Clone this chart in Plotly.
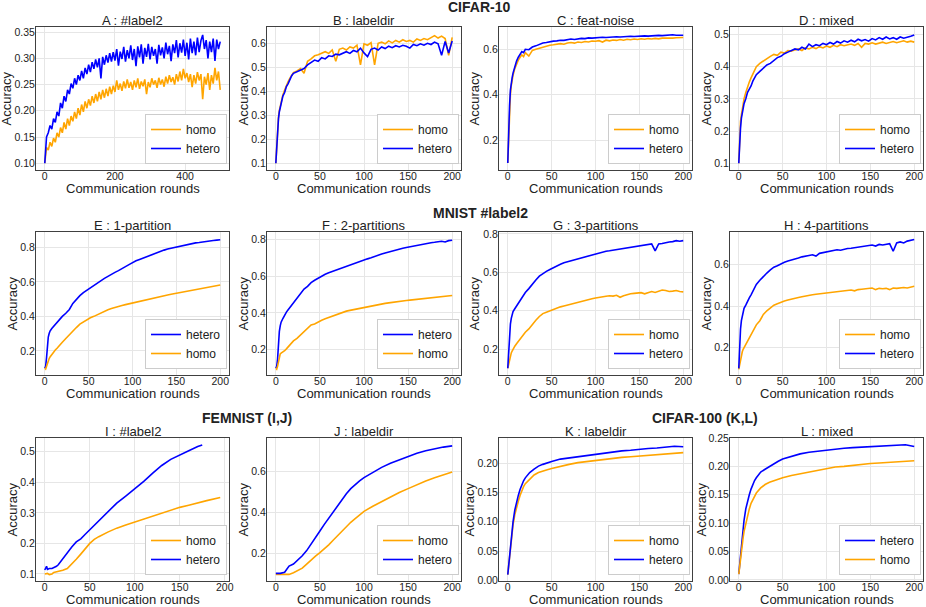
import plotly.graph_objects as go

W, H = 926, 607
ORANGE = "#FFA500"
BLUE = "#0000FF"
FONT = "Liberation Sans, Arial, sans-serif"

# ---------------- data ----------------
X500 = [0, 5, 10, 15, 20, 25, 30, 35, 40, 45, 50, 55, 60, 65, 70, 75, 80, 85, 90, 95,
        100, 105, 110, 115, 120, 125, 130, 135, 140, 145, 150, 155, 160, 165, 170, 175, 180, 185, 190, 195,
        200, 205, 210, 215, 220, 225, 230, 235, 240, 245, 250, 255, 260, 265, 270, 275, 280, 285, 290, 295,
        300, 305, 310, 315, 320, 325, 330, 335, 340, 345, 350, 355, 360, 365, 370, 375, 380, 385, 390, 395,
        400, 405, 410, 415, 420, 425, 430, 435, 440, 445, 450, 455, 460, 465, 470, 475, 480, 485, 490, 495,
        500]

X200 = [0, 1, 2, 3, 4, 5, 6, 8, 10, 12, 14, 16, 18, 20,
        24, 28, 32, 36, 40, 44, 48, 52, 56, 60,
        64, 68, 72, 76, 80, 84, 88, 92, 96, 100,
        104, 108, 112, 116, 120, 124, 128, 132, 136, 140,
        144, 148, 152, 156, 160, 164, 168, 172, 176, 180,
        184, 188, 192, 196, 200]

A_HOMO = [0.100, 0.130, 0.125, 0.140, 0.132, 0.148, 0.140, 0.158, 0.150, 0.168,
          0.158, 0.178, 0.165, 0.185, 0.172, 0.190, 0.180, 0.198, 0.185, 0.205,
          0.192, 0.212, 0.198, 0.218, 0.205, 0.222, 0.210, 0.228, 0.215, 0.232,
          0.218, 0.236, 0.222, 0.240, 0.225, 0.242, 0.228, 0.246, 0.232, 0.248,
          0.236, 0.258, 0.240, 0.252, 0.238, 0.256, 0.243, 0.260, 0.244, 0.255,
          0.240, 0.258, 0.245, 0.262, 0.242, 0.256, 0.247, 0.260, 0.232, 0.255,
          0.245, 0.262, 0.250, 0.258, 0.244, 0.263, 0.250, 0.260, 0.246, 0.265,
          0.252, 0.268, 0.255, 0.264, 0.250, 0.270, 0.256, 0.275, 0.258, 0.280,
          0.262, 0.272, 0.255, 0.270, 0.245, 0.268, 0.252, 0.274, 0.258, 0.270,
          0.222, 0.265, 0.250, 0.272, 0.240, 0.268, 0.252, 0.282, 0.258, 0.275,
          0.240]
A_HETERO = [0.100, 0.150, 0.158, 0.172, 0.165, 0.185, 0.178, 0.198, 0.190, 0.215,
            0.205, 0.228, 0.218, 0.240, 0.232, 0.252, 0.243, 0.262, 0.250, 0.268,
            0.258, 0.276, 0.262, 0.282, 0.270, 0.288, 0.274, 0.293, 0.280, 0.298,
            0.283, 0.300, 0.262, 0.303, 0.288, 0.306, 0.292, 0.310, 0.294, 0.312,
            0.296, 0.318, 0.286, 0.313, 0.299, 0.322, 0.294, 0.316, 0.300, 0.325,
            0.297, 0.318, 0.285, 0.323, 0.302, 0.327, 0.290, 0.320, 0.303, 0.328,
            0.298, 0.322, 0.305, 0.318, 0.290, 0.326, 0.306, 0.321, 0.300, 0.330,
            0.308, 0.324, 0.295, 0.327, 0.310, 0.335, 0.302, 0.329, 0.311, 0.336,
            0.305, 0.330, 0.298, 0.338, 0.310, 0.332, 0.306, 0.340, 0.312, 0.334,
            0.345, 0.318, 0.335, 0.300, 0.332, 0.312, 0.338, 0.295, 0.336, 0.318,
            0.332]

B_HOMO = [0.100, 0.180, 0.250, 0.290, 0.320, 0.340, 0.360, 0.385, 0.405, 0.425, 0.440, 0.455, 0.470, 0.478,
          0.485, 0.495, 0.475, 0.525, 0.535, 0.548, 0.552, 0.560, 0.565, 0.558,
          0.572, 0.525, 0.575, 0.580, 0.572, 0.585, 0.580, 0.592, 0.510, 0.598,
          0.592, 0.603, 0.510, 0.600, 0.605, 0.598, 0.610, 0.602, 0.612, 0.605,
          0.615, 0.608, 0.612, 0.605, 0.618, 0.612, 0.620, 0.615, 0.625, 0.632,
          0.622, 0.630, 0.620, 0.550, 0.625]
B_HETERO = [0.100, 0.170, 0.240, 0.285, 0.315, 0.335, 0.355, 0.380, 0.395, 0.420, 0.432, 0.450, 0.465, 0.475,
            0.482, 0.490, 0.495, 0.510, 0.520, 0.530, 0.525, 0.540, 0.535, 0.548,
            0.545, 0.555, 0.552, 0.560, 0.565, 0.558, 0.570, 0.565, 0.580, 0.560,
            0.545, 0.575, 0.580, 0.572, 0.585, 0.578, 0.588, 0.582, 0.590, 0.585,
            0.592, 0.588, 0.580, 0.595, 0.590, 0.598, 0.592, 0.600, 0.595, 0.605,
            0.598, 0.550, 0.608, 0.560, 0.610]

C_HOMO = [0.100, 0.230, 0.330, 0.400, 0.440, 0.465, 0.485, 0.515, 0.535, 0.552, 0.565, 0.575, 0.568, 0.585,
          0.570, 0.595, 0.600, 0.605, 0.610, 0.612, 0.618, 0.620, 0.622, 0.625,
          0.622, 0.628, 0.630, 0.627, 0.632, 0.630, 0.634, 0.632, 0.636, 0.635,
          0.638, 0.632, 0.640, 0.637, 0.641, 0.639, 0.643, 0.640, 0.644, 0.642,
          0.645, 0.643, 0.646, 0.644, 0.647, 0.645, 0.648, 0.646, 0.649, 0.648,
          0.650, 0.649, 0.651, 0.650, 0.652]
C_HETERO = [0.100, 0.250, 0.350, 0.420, 0.455, 0.475, 0.495, 0.525, 0.548, 0.565, 0.575, 0.590, 0.585, 0.600,
            0.598, 0.610, 0.615, 0.622, 0.628, 0.630, 0.634, 0.636, 0.637, 0.640,
            0.639, 0.642, 0.645, 0.643, 0.646, 0.648, 0.647, 0.650, 0.649, 0.651,
            0.650, 0.653, 0.652, 0.654, 0.653, 0.655, 0.654, 0.656, 0.655, 0.657,
            0.656, 0.658, 0.657, 0.659, 0.658, 0.660, 0.659, 0.661, 0.660, 0.662,
            0.661, 0.664, 0.662, 0.663, 0.662]

D_HOMO = [0.100, 0.180, 0.230, 0.250, 0.270, 0.290, 0.300, 0.320, 0.340, 0.352, 0.365, 0.378, 0.390, 0.400,
          0.410, 0.418, 0.425, 0.432, 0.438, 0.435, 0.445, 0.442, 0.450, 0.448,
          0.452, 0.455, 0.450, 0.458, 0.455, 0.460, 0.456, 0.462, 0.458, 0.464,
          0.460, 0.466, 0.462, 0.468, 0.465, 0.468, 0.470, 0.466, 0.472, 0.460,
          0.472, 0.470, 0.474, 0.470, 0.473, 0.476, 0.472, 0.475, 0.478, 0.474,
          0.477, 0.480, 0.476, 0.479, 0.476]
D_HETERO = [0.100, 0.170, 0.210, 0.240, 0.260, 0.275, 0.285, 0.300, 0.320, 0.330, 0.340, 0.355, 0.365, 0.375,
            0.385, 0.395, 0.405, 0.410, 0.420, 0.428, 0.432, 0.440, 0.445, 0.450,
            0.455, 0.452, 0.460, 0.455, 0.470, 0.462, 0.468, 0.465, 0.472, 0.468,
            0.475, 0.470, 0.478, 0.473, 0.480, 0.476, 0.482, 0.477, 0.485, 0.480,
            0.484, 0.479, 0.487, 0.483, 0.490, 0.485, 0.492, 0.486, 0.490, 0.485,
            0.492, 0.488, 0.490, 0.494, 0.498]

E_HETERO = [0.100, 0.110, 0.160, 0.240, 0.280, 0.300, 0.315, 0.330, 0.342, 0.355, 0.367, 0.378, 0.390, 0.400,
            0.418, 0.440, 0.475, 0.500, 0.520, 0.538, 0.552, 0.568, 0.582, 0.595,
            0.608, 0.620, 0.632, 0.645, 0.655, 0.665, 0.675, 0.688, 0.700, 0.712,
            0.722, 0.730, 0.738, 0.746, 0.755, 0.762, 0.770, 0.778, 0.784, 0.790,
            0.795, 0.800, 0.805, 0.808, 0.812, 0.818, 0.822, 0.826, 0.828, 0.832,
            0.835, 0.838, 0.840, 0.842, 0.844]
E_HOMO = [0.100, 0.095, 0.110, 0.130, 0.145, 0.155, 0.165, 0.180, 0.195, 0.205, 0.215, 0.228, 0.240, 0.250,
          0.272, 0.295, 0.315, 0.335, 0.355, 0.368, 0.380, 0.392, 0.400, 0.410,
          0.420, 0.430, 0.438, 0.445, 0.452, 0.458, 0.463, 0.468, 0.473, 0.478,
          0.482, 0.488, 0.492, 0.497, 0.502, 0.505, 0.510, 0.514, 0.520, 0.524,
          0.528, 0.532, 0.535, 0.540, 0.545, 0.548, 0.552, 0.556, 0.560, 0.565,
          0.568, 0.572, 0.575, 0.578, 0.582]

F_HETERO = [0.100, 0.110, 0.150, 0.240, 0.300, 0.330, 0.350, 0.370, 0.390, 0.405, 0.418, 0.430, 0.445, 0.458,
            0.478, 0.505, 0.530, 0.545, 0.565, 0.578, 0.590, 0.600, 0.610, 0.618,
            0.625, 0.633, 0.642, 0.648, 0.655, 0.660, 0.668, 0.675, 0.680, 0.688,
            0.694, 0.700, 0.708, 0.714, 0.720, 0.726, 0.732, 0.738, 0.743, 0.748,
            0.752, 0.756, 0.760, 0.763, 0.767, 0.770, 0.774, 0.777, 0.782, 0.784,
            0.788, 0.790, 0.786, 0.793, 0.795]
F_HOMO = [0.100, 0.095, 0.110, 0.140, 0.165, 0.178, 0.182, 0.188, 0.195, 0.205, 0.215, 0.228, 0.238, 0.248,
          0.262, 0.280, 0.298, 0.315, 0.335, 0.340, 0.352, 0.360, 0.368, 0.375,
          0.382, 0.390, 0.398, 0.405, 0.410, 0.414, 0.418, 0.422, 0.428, 0.432,
          0.436, 0.440, 0.443, 0.447, 0.450, 0.452, 0.455, 0.458, 0.462, 0.464,
          0.466, 0.468, 0.470, 0.472, 0.474, 0.476, 0.478, 0.480, 0.482, 0.485,
          0.487, 0.490, 0.488, 0.494, 0.495]

G_HOMO = [0.100, 0.120, 0.150, 0.165, 0.180, 0.190, 0.200, 0.215, 0.228, 0.240, 0.252, 0.265, 0.278, 0.288,
          0.305, 0.330, 0.350, 0.370, 0.385, 0.392, 0.400, 0.408, 0.415, 0.420,
          0.425, 0.430, 0.436, 0.440, 0.445, 0.450, 0.455, 0.458, 0.462, 0.466,
          0.470, 0.472, 0.475, 0.478, 0.476, 0.480, 0.470, 0.478, 0.485, 0.488,
          0.490, 0.492, 0.494, 0.488, 0.496, 0.500, 0.495, 0.502, 0.508, 0.505,
          0.500, 0.502, 0.505, 0.500, 0.498]
G_HETERO = [0.100, 0.200, 0.290, 0.330, 0.360, 0.380, 0.395, 0.410, 0.425, 0.438, 0.450, 0.465, 0.480, 0.495,
            0.515, 0.540, 0.560, 0.580, 0.595, 0.605, 0.615, 0.625, 0.635, 0.642,
            0.650, 0.655, 0.662, 0.668, 0.672, 0.678, 0.683, 0.688, 0.693, 0.698,
            0.700, 0.705, 0.710, 0.712, 0.715, 0.720, 0.722, 0.725, 0.728, 0.730,
            0.735, 0.738, 0.740, 0.742, 0.745, 0.748, 0.712, 0.748, 0.750, 0.755,
            0.758, 0.760, 0.765, 0.762, 0.765]

H_HOMO = [0.095, 0.120, 0.150, 0.165, 0.180, 0.192, 0.200, 0.215, 0.232, 0.250, 0.265, 0.280, 0.295, 0.310,
          0.330, 0.360, 0.378, 0.392, 0.405, 0.412, 0.420, 0.425, 0.430, 0.435,
          0.438, 0.442, 0.446, 0.448, 0.452, 0.455, 0.458, 0.460, 0.462, 0.464,
          0.466, 0.468, 0.470, 0.472, 0.474, 0.476, 0.478, 0.474, 0.480, 0.482,
          0.484, 0.486, 0.488, 0.480, 0.486, 0.484, 0.486, 0.480, 0.488, 0.486,
          0.488, 0.490, 0.488, 0.492, 0.496]
H_HETERO = [0.100, 0.220, 0.290, 0.330, 0.355, 0.375, 0.390, 0.405, 0.425, 0.440, 0.455, 0.470, 0.490, 0.505,
            0.525, 0.545, 0.560, 0.575, 0.588, 0.595, 0.605, 0.612, 0.618, 0.622,
            0.628, 0.632, 0.638, 0.640, 0.645, 0.648, 0.642, 0.655, 0.658, 0.662,
            0.665, 0.668, 0.672, 0.670, 0.675, 0.678, 0.680, 0.682, 0.685, 0.688,
            0.690, 0.692, 0.695, 0.690, 0.698, 0.695, 0.700, 0.702, 0.665, 0.705,
            0.710, 0.705, 0.714, 0.718, 0.722]

I_X_HOMO = [0, 3, 5, 8, 10, 15, 20, 25, 30, 35, 40, 45, 50, 55, 60, 70, 80, 90, 100,
            110, 120, 130, 140, 150, 160, 170, 180, 195]
I_HOMO = [0.100, 0.102, 0.098, 0.100, 0.105, 0.108, 0.112, 0.118, 0.132, 0.148, 0.165, 0.182, 0.200,
          0.213, 0.222, 0.237, 0.250, 0.260, 0.270, 0.280, 0.290, 0.300, 0.308, 0.318, 0.325, 0.333,
          0.340, 0.350]
I_X_HETERO = [0, 2, 3, 5, 8, 10, 13, 15, 18, 20, 25, 30, 35, 40, 45, 50, 55, 60, 65, 70, 75, 80,
              90, 100, 110, 120, 130, 140, 150, 160, 170, 175]
I_HETERO = [0.113, 0.125, 0.115, 0.118, 0.118, 0.120, 0.125, 0.130, 0.142, 0.150, 0.168, 0.188, 0.205,
            0.215, 0.230, 0.245, 0.260, 0.275, 0.290, 0.305, 0.320, 0.332, 0.355, 0.378, 0.403, 0.430,
            0.455, 0.475, 0.490, 0.503, 0.517, 0.522]

J_X = [0, 5, 10, 15, 20, 25, 30, 35, 40, 45, 50, 55, 60, 65, 70, 75, 80, 85, 90, 95, 100,
       110, 120, 130, 140, 150, 160, 170, 180, 190, 200]
J_HOMO = [0.100, 0.100, 0.100, 0.100, 0.108, 0.118, 0.130, 0.150, 0.170, 0.188, 0.205, 0.222, 0.243,
          0.265, 0.288, 0.310, 0.332, 0.352, 0.370, 0.388, 0.405, 0.430, 0.453, 0.475, 0.496, 0.515,
          0.535, 0.552, 0.568, 0.582, 0.595]
J_HETERO = [0.105, 0.105, 0.110, 0.140, 0.150, 0.168, 0.190, 0.215, 0.245, 0.278, 0.310, 0.342, 0.372,
            0.402, 0.432, 0.462, 0.490, 0.515, 0.535, 0.552, 0.568, 0.595, 0.618, 0.638, 0.655, 0.672,
            0.686, 0.698, 0.708, 0.716, 0.722]

KL_X = [0, 1, 2, 3, 4, 5, 6, 8, 10, 12, 14, 16, 18, 20, 25, 30, 35, 40, 45, 50, 60, 70, 80, 90,
        100, 110, 120, 130, 140, 150, 160, 170, 180, 190, 200]
K_HOMO = [0.010, 0.024, 0.038, 0.055, 0.070, 0.083, 0.095, 0.112, 0.125, 0.135, 0.145, 0.153, 0.160,
          0.165, 0.173, 0.180, 0.184, 0.187, 0.189, 0.191, 0.195, 0.198, 0.201, 0.203, 0.205, 0.207,
          0.209, 0.210, 0.211, 0.212, 0.213, 0.214, 0.215, 0.216, 0.218]
K_HETERO = [0.010, 0.025, 0.040, 0.058, 0.075, 0.088, 0.100, 0.120, 0.135, 0.145, 0.155, 0.163, 0.170,
            0.175, 0.184, 0.190, 0.195, 0.198, 0.201, 0.203, 0.207, 0.209, 0.211, 0.214, 0.216, 0.218,
            0.220, 0.221, 0.222, 0.224, 0.225, 0.226, 0.227, 0.229, 0.228]
L_HETERO = [0.010, 0.028, 0.045, 0.063, 0.080, 0.093, 0.105, 0.125, 0.140, 0.150, 0.160, 0.168, 0.175,
            0.180, 0.190, 0.195, 0.200, 0.205, 0.209, 0.213, 0.218, 0.222, 0.225, 0.227, 0.229, 0.230,
            0.232, 0.233, 0.234, 0.235, 0.236, 0.236, 0.237, 0.238, 0.235]
L_HOMO = [0.010, 0.025, 0.040, 0.053, 0.065, 0.075, 0.085, 0.100, 0.115, 0.125, 0.135, 0.142, 0.148,
          0.153, 0.162, 0.168, 0.172, 0.175, 0.178, 0.180, 0.184, 0.187, 0.190, 0.193, 0.197, 0.199,
          0.200, 0.202, 0.203, 0.205, 0.206, 0.207, 0.208, 0.210, 0.210]

SUBTITLES = ["A : #label2", "B : labeldir", "C : feat-noise", "D : mixed",
             "E : 1-partition", "F : 2-partitions", "G : 3-partitions", "H : 4-partitions",
             "I : #label2", "J : labeldir", "K : labeldir", "L : mixed"]
GROUP_TITLES = ["CIFAR-10", "MNIST #label2", "FEMNIST (I,J)", "CIFAR-100 (K,L)"]
X_LABEL = "Communication rounds"
Y_LABEL = "Accuracy"

# ---------------- panel configuration ----------------
panels = [
    dict(xh=X500, h=A_HOMO, xe=X500, e=A_HETERO, xr=[-25, 525], yr=[0.087, 0.360],
         yt=[0.10, 0.15, 0.20, 0.25, 0.30, 0.35], yf=".2f", xt=[0, 200, 400], first="homo", yoff=30),
    dict(xh=X200, h=B_HOMO, xe=X200, e=B_HETERO, xr=[-10, 210], yr=[0.072, 0.668],
         yt=[0.1, 0.2, 0.3, 0.4, 0.5, 0.6], yf=".1f", xt=[0, 50, 100, 150, 200], first="homo", yoff=24),
    dict(xh=X200, h=C_HOMO, xe=X200, e=C_HETERO, xr=[-10, 210], yr=[0.069, 0.698],
         yt=[0.2, 0.4, 0.6], yf=".1f", xt=[0, 50, 100, 150, 200], first="homo", yoff=25),
    dict(xh=X200, h=D_HOMO, xe=X200, e=D_HETERO, xr=[-10, 210], yr=[0.079, 0.523],
         yt=[0.1, 0.2, 0.3, 0.4, 0.5], yf=".1f", xt=[0, 50, 100, 150, 200], first="homo", yoff=24),
    dict(xh=X200, h=E_HOMO, xe=X200, e=E_HETERO, xr=[-10, 210], yr=[0.060, 0.889],
         yt=[0.2, 0.4, 0.6, 0.8], yf=".1f", xt=[0, 50, 100, 150, 200], first="hetero", yoff=24),
    dict(xh=X200, h=F_HOMO, xe=X200, e=F_HETERO, xr=[-10, 210], yr=[0.063, 0.840],
         yt=[0.2, 0.4, 0.6, 0.8], yf=".1f", xt=[0, 50, 100, 150, 200], first="hetero", yoff=24),
    dict(xh=X200, h=G_HOMO, xe=X200, e=G_HETERO, xr=[-10, 210], yr=[0.065, 0.810],
         yt=[0.2, 0.4, 0.6, 0.8], yf=".1f", xt=[0, 50, 100, 150, 200], first="homo", yoff=25),
    dict(xh=X200, h=H_HOMO, xe=X200, e=H_HETERO, xr=[-10, 210], yr=[0.068, 0.758],
         yt=[0.2, 0.4, 0.6], yf=".1f", xt=[0, 50, 100, 150, 200], first="homo", yoff=24),
    dict(xh=I_X_HOMO, h=I_HOMO, xe=I_X_HETERO, e=I_HETERO, xr=[-9.75, 204.75], yr=[0.077, 0.545],
         yt=[0.1, 0.2, 0.3, 0.4, 0.5], yf=".1f", xt=[0, 50, 100, 150, 200], first="homo", yoff=24),
    dict(xh=J_X, h=J_HOMO, xe=J_X, e=J_HETERO, xr=[-10, 210], yr=[0.068, 0.760],
         yt=[0.2, 0.4, 0.6], yf=".1f", xt=[0, 50, 100, 150, 200], first="homo", yoff=24),
    dict(xh=KL_X, h=K_HOMO, xe=KL_X, e=K_HETERO, xr=[-10, 210], yr=[-0.001, 0.243],
         yt=[0.00, 0.05, 0.10, 0.15, 0.20], yf=".2f", xt=[0, 50, 100, 150, 200], first="homo", yoff=30),
    dict(xh=KL_X, h=L_HOMO, xe=KL_X, e=L_HETERO, xr=[-10, 210], yr=[-0.002, 0.250],
         yt=[0.00, 0.05, 0.10, 0.15, 0.20, 0.25], yf=".2f", xt=[0, 50, 100, 150, 200], first="hetero", yoff=29),
]

for p in panels:
    assert len(p["xh"]) == len(p["h"]), (len(p["xh"]), len(p["h"]))
    assert len(p["xe"]) == len(p["e"]), (len(p["xe"]), len(p["e"]))

# pixel layout of plot areas
COLS = [(36, 229), (267, 461), (499, 692), (730, 923)]
ROWS = [(27, 170), (232, 375), (438, 581)]

def px(x):
    return x / W

def py(y):
    return 1 - y / H

fig = go.Figure()
annotations = []
layout = dict(
    template="none",
    width=W, height=H, autosize=False, margin=dict(l=0, r=0, t=0, b=0, pad=0),
    paper_bgcolor="white", plot_bgcolor="white",
    font=dict(family=FONT, color="#222222"),
    showlegend=True,
)

TXT = dict(family=FONT, color="#222222")

for i, p in enumerate(panels):
    k = i + 1
    r, c = divmod(i, 4)
    x0, x1 = COLS[c]
    y0, y1 = ROWS[r]
    xa = "x" if k == 1 else f"x{k}"
    ya = "y" if k == 1 else f"y{k}"
    lg = "legend" if k == 1 else f"legend{k}"

    homo = go.Scatter(x=p["xh"], y=p["h"], mode="lines", name="homo",
                      line=dict(color=ORANGE, width=1.6), xaxis=xa, yaxis=ya, legend=lg)
    hetero = go.Scatter(x=p["xe"], y=p["e"], mode="lines", name="hetero",
                        line=dict(color=BLUE, width=1.6), xaxis=xa, yaxis=ya, legend=lg)
    if p["first"] == "homo":
        fig.add_trace(homo)
        fig.add_trace(hetero)
    else:
        fig.add_trace(hetero)
        fig.add_trace(homo)

    axis_common = dict(showline=True, mirror=True, linecolor="#404040", linewidth=1,
                       showgrid=True, gridcolor="#E6E6E6", gridwidth=1, zeroline=False,
                       automargin=False, ticks="", tickfont=dict(size=10.5, **TXT))
    layout["xaxis" if k == 1 else f"xaxis{k}"] = dict(
        domain=[px(x0), px(x1)], anchor=ya, range=p["xr"], tickvals=p["xt"],
        ticklabelstandoff=-4, **axis_common)
    layout["yaxis" if k == 1 else f"yaxis{k}"] = dict(
        domain=[py(y1), py(y0)], anchor=xa, range=p["yr"], tickvals=p["yt"],
        tickformat=p["yf"], ticklabelstandoff=-2, **axis_common)

    layout[lg] = dict(x=px(x1 - 2), y=py(y1 - 6), xanchor="right", yanchor="bottom",
                      bgcolor="white", bordercolor="#CCCCCC", borderwidth=1,
                      font=dict(size=12, **TXT), tracegroupgap=0, itemwidth=30)

    annotations.append(dict(text=SUBTITLES[i], x=px((x0 + x1) / 2), y=py(y0 - 6.5),
                            xref="paper", yref="paper", xanchor="center", yanchor="middle",
                            showarrow=False, font=dict(size=13, **TXT)))
    annotations.append(dict(text=X_LABEL, x=px((x0 + x1) / 2), y=py(y1 + 18),
                            xref="paper", yref="paper", xanchor="center", yanchor="middle",
                            showarrow=False, font=dict(size=13, **TXT)))
    annotations.append(dict(text=Y_LABEL, x=px(x0 - p["yoff"]), y=py((y0 + y1) / 2),
                            xref="paper", yref="paper", xanchor="center", yanchor="middle",
                            textangle=-90, showarrow=False, font=dict(size=13, **TXT)))

GROUP_POS = [(479, 7), (480, 213), (247, 418), (705, 418)]
for t, (gx, gy) in zip(GROUP_TITLES, GROUP_POS):
    annotations.append(dict(text="<b>" + t + "</b>", x=px(gx), y=py(gy), xref="paper", yref="paper",
                            xanchor="center", yanchor="middle", showarrow=False,
                            font=dict(size=14, **TXT)))

layout["annotations"] = annotations
fig.update_layout(**layout)

PIN = ("document.body.style.margin='0';"
       "var d=document.getElementById('{plot_id}');"
       "d.style.position='fixed';d.style.top='0px';d.style.left='0px';")
fig.write_html("out.html", post_script=PIN, config={"displayModeBar": False})
